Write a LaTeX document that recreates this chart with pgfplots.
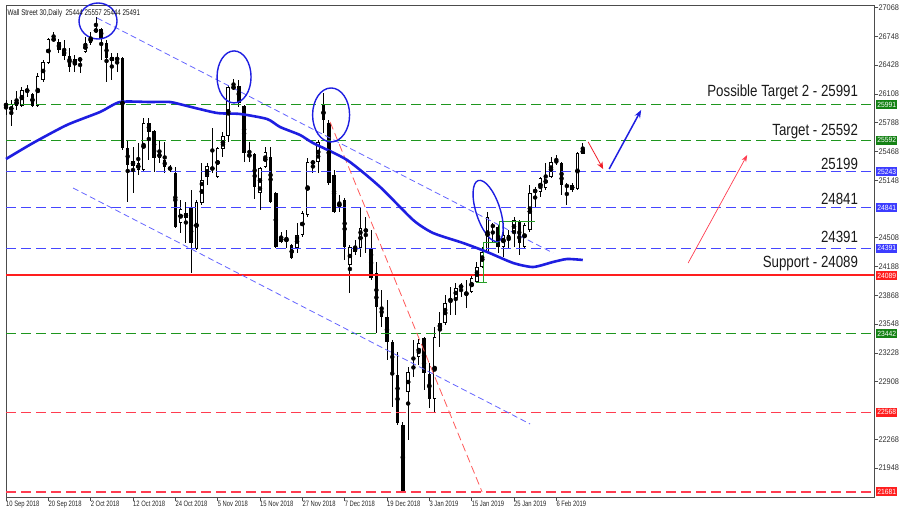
\documentclass[border=0pt]{standalone}
\usepackage{fontspec}
\setmainfont{Liberation Sans}
\usepackage{pgfplots}
\pgfplotsset{compat=1.18}
\usepackage{pgfplotstable}
\usetikzlibrary{arrows.meta}
\newfontfamily\narrowA[FakeStretch=0.75]{Liberation Sans}
\newfontfamily\narrowB[FakeStretch=0.9]{Liberation Sans}
\newfontfamily\annot[FakeStretch=0.82]{Liberation Sans}

\definecolor{lgreen}{RGB}{30,150,30}
\definecolor{lblue}{RGB}{70,70,255}
\definecolor{lred}{RGB}{255,30,30}
\definecolor{ldred}{RGB}{255,60,80}
\definecolor{bgreen}{RGB}{20,130,20}
\definecolor{bblue}{RGB}{60,60,255}
\definecolor{bred}{RGB}{255,30,30}
\definecolor{maBlue}{RGB}{30,30,225}
\definecolor{chBlue}{RGB}{100,100,255}
\definecolor{trRed}{RGB}{255,90,90}
\definecolor{arRed}{RGB}{240,30,40}
\definecolor{stGreen}{RGB}{40,160,40}

\pgfplotstableread{
i o h l c
0 25974 26041 25874 25996
1 25896 26041 25752 25996
2 25974 26141 25930 26041
3 25974 26185 25963 26152
4 26130 26208 26074 26163
6 25974 26341 25963 26308
7 26263 26486 26241 26463
8 26452 26730 26441 26719
9 26708 26797 26697 26719
13 26430 26541 26352 26497
14 26486 26519 26341 26497
15 26575 26741 26563 26675
16 26675 26797 26652 26741
17 26808 26964 26786 26819
20 26474 26563 26263 26519
21 26486 26563 26352 26508
24 25307 25518 25006 25362
25 25262 25562 25206 25340
26 25262 25841 25240 25785
29 25396 25596 25340 25451
33 24673 24928 24561 24828
36 24383 24928 24372 24906
37 24895 25340 24873 25151
38 25184 25340 25095 25307
39 25262 25729 25229 25295
40 25184 25518 25173 25507
41 25496 25685 25407 25640
42 25640 26208 25574 26185
43 26174 26274 26152 26185
46 25407 25574 25351 25440
48 25006 25295 24817 25284
49 25295 25518 25284 25462
52 24461 24572 24450 24517
53 24461 24595 24395 24506
55 24395 24673 24339 24539
56 24539 24806 24517 24784
57 24762 25396 24739 25351
58 25340 25373 25229 25351
59 25351 25596 25229 25574
63 24839 24984 24795 24906
65 24205 24428 23894 24406
67 24395 24839 24294 24617
68 24584 24739 24339 24595
76 22793 23071 22259 23015
78 23182 23382 23093 23338
81 22715 23516 22570 23404
82 23494 23683 23293 23560
83 23560 23872 23538 23783
84 23794 23961 23649 23838
85 23838 24005 23649 23950
86 23961 24005 23849 23972
87 23872 24039 23727 23905
88 23905 24094 23894 24061
89 24016 24239 24005 24183
90 24183 24406 24172 24350
91 24350 24795 24339 24739
94 24406 24673 24294 24539
96 24561 24739 24406 24706
98 24406 24673 24395 24650
99 24595 25095 24572 25006
100 25017 25073 24839 25040
101 25017 25184 24962 25173
102 25062 25340 25040 25206
103 25184 25407 25173 25351
108 25051 25462 25040 25451
109 25444 25557 25444 25491
}\bull

\pgfplotstableread{
i o h l c
5 26107 26119 25963 25974
10 26686 26719 26563 26597
11 26597 26708 26486 26530
12 26530 26619 26352 26408
18 26830 26842 26486 26730
19 26675 26708 26241 26508
22 26508 26519 25485 25507
23 25507 25596 24906 25318
27 25785 25841 25373 25685
28 25696 25707 25240 25396
30 25373 25574 25229 25295
31 25295 25318 25240 25262
32 25229 25295 24617 24628
34 24784 24906 24450 24728
35 24839 25040 24116 24450
44 26196 26263 25963 26007
45 25974 25985 25351 25451
47 25440 25451 24940 25073
50 25407 25518 24895 24906
51 25006 25017 24395 24406
54 24428 24439 24272 24283
60 25985 26119 25674 25818
61 25785 25818 25095 25117
62 25206 25262 24784 24795
64 24928 24951 24261 24406
66 24406 24483 24317 24350
69 24395 24595 24039 24061
70 24116 24239 23449 23738
71 23738 23927 23516 23627
72 23627 23816 23149 23349
73 23349 23371 22626 23015
74 22982 23238 22426 22448
75 22426 22459 21681 21695
77 23082 23371 22960 23049
79 23393 23404 22815 23004
80 22993 23115 22615 22715
92 24650 24673 24461 24628
93 24628 24650 24339 24406
95 24539 24595 24395 24483
97 24684 24706 24317 24450
104 25373 25429 25318 25340
105 25340 25351 24984 25095
106 25095 25117 24873 25073
107 25095 25117 25017 25040
}\bear

\pgfplotstableread{
i ma
0 25384
5.10 25562
11.53 25763
17.77 25907
21.55 26018
27.22 26018
31.00 26018
34.22 25974
39.89 25896
44.23 25885
49.34 25829
51.80 25740
55.58 25651
58.03 25562
64.46 25373
70.70 25073
76.94 24706
80.72 24561
86.39 24450
90.93 24350
95.84 24228
99.62 24183
103.40 24239
106.05 24272
109 24261
}\ma

\tikzset{
  lvlbox/.style={anchor=west, text=white, font=\narrowB\fontsize{7.5}{7.5}\selectfont,
    inner xsep=1.2pt, inner ysep=0pt, minimum height=9pt, xshift=1.7pt},
  ann/.style={anchor=base east, inner sep=0pt, text=black!90,
    font=\annot\fontsize{16.2}{16.2}\selectfont}
}
\pgfplotsset{
  hl/.style={mark=none, line width=1.2pt, dash pattern=on 10pt off 5pt},
  wick/.style={only marks, mark=none, error bars/.cd, y dir=both, y explicit, error mark=none,
    error bar style={draw=black, line width=0.9pt}},
  body/.style={only marks, mark=none, error bars/.cd, y dir=both, y explicit, error mark=none,
    error bar style={draw=black, line width=3.5pt}},
  inner/.style={only marks, mark=none, error bars/.cd, y dir=both, y explicit, error mark=none,
    error bar style={draw=white, line width=1.9pt}},
}

\begin{document}
\begin{tikzpicture}
\useasboundingbox (0,0) rectangle (904pt,520pt);
\begin{axis}[
  at={(6pt,23pt)}, anchor=south west,
  scale only axis, width=868.3pt, height=492pt,
  xmin=0, xmax=164.1, ymin=21625, ymax=27097,
  clip=false,
  axis line style={draw=black!70, line width=0.7pt},
  tick align=outside,
  major tick length=4pt,
  tick style={draw=black!70, line width=0.6pt},
  xtick pos=left, ytick pos=right,
  yticklabel pos=right,
  xtick={0,8,...,104},
  xticklabels={10 Sep 2018,20 Sep 2018,2 Oct 2018,12 Oct 2018,24 Oct 2018,5 Nov 2018,15 Nov 2018,27 Nov 2018,7 Dec 2018,19 Dec 2018,3 Jan 2019,15 Jan 2019,25 Jan 2019,6 Feb 2019},
  xticklabel style={font=\narrowA\fontsize{7.8}{8}\selectfont, anchor=north west, inner sep=0pt, text=black!85},
  ytick={27068,26748,26428,26108,25788,25468,25148,24508,24188,23868,23548,23228,22908,22268,21948},
  yticklabels={27068,26748,26428,26108,25788,25468,25148,24508,24188,23868,23548,23228,22908,22268,21948},
  yticklabel style={font=\narrowB\fontsize{8.2}{8}\selectfont, anchor=west, inner sep=0pt, text=black!80},
]
% candles
\addplot[wick] table[x=i, y expr={(\thisrow{h}+\thisrow{l})/2}, y error expr={(\thisrow{h}-\thisrow{l})/2}] {\bull};
\addplot[wick] table[x=i, y expr={(\thisrow{h}+\thisrow{l})/2}, y error expr={(\thisrow{h}-\thisrow{l})/2}] {\bear};
\addplot[body] table[x=i, y expr={(\thisrow{o}+\thisrow{c})/2}, y error expr={max(abs(\thisrow{c}-\thisrow{o})/2,6)}] {\bull};
\addplot[body] table[x=i, y expr={(\thisrow{o}+\thisrow{c})/2}, y error expr={max(abs(\thisrow{c}-\thisrow{o})/2,6)}] {\bear};
\addplot[inner] table[x=i, y expr={(\thisrow{o}+\thisrow{c})/2}, y error expr={max(abs(\thisrow{c}-\thisrow{o})/2-8,0.5)}] {\bull};

% level lines
\addplot[lgreen, hl] coordinates {(0,25991) (164.1,25991)};
\addplot[lgreen, hl] coordinates {(0,25592) (164.1,25592)};
\addplot[lblue, hl] coordinates {(0,25243) (164.1,25243)};
\addplot[lblue, hl] coordinates {(0,24841) (164.1,24841)};
\addplot[lblue, hl] coordinates {(0,24391) (164.1,24391)};
\addplot[lred, mark=none, line width=2pt] coordinates {(0,24089) (164.1,24089)};
\addplot[lgreen, hl] coordinates {(0,23442) (164.1,23442)};
\addplot[ldred, hl] coordinates {(0,22568) (164.1,22568)};
\addplot[ldred, hl] coordinates {(0,21681) (164.1,21681)};

% channel and trend lines
\addplot[chBlue, mark=none, line width=0.8pt, dash pattern=on 6pt off 3.5pt] coordinates {(17.20,26953) (103.40,24339)};
\addplot[chBlue, mark=none, line width=0.8pt, dash pattern=on 6pt off 3.5pt] coordinates {(12.67,25062) (99.05,22437)};
\addplot[trRed, mark=none, line width=0.8pt, dash pattern=on 8pt off 4pt] coordinates {(61.25,25796) (89.98,21681)};

% green step marks
\addplot[stGreen, mark=none, line width=0.8pt] coordinates {(88.85,24016) (90.93,24016)};
\addplot[stGreen, mark=none, line width=0.8pt] coordinates {(90.17,24016) (90.17,24461) (93.01,24461)};
\addplot[stGreen, mark=none, line width=0.8pt] coordinates {(93.19,24461) (93.19,24695) (100.0,24695)};

% moving average
\addplot[maBlue, mark=none, line width=2.6pt, smooth, tension=0.4] table[x=i, y=ma] {\ma};

% ellipses
\draw[maBlue, line width=1.4pt] (axis cs:17.39,26919) ellipse [x radius=19pt, y radius=18pt];
\draw[maBlue, line width=1.4pt] (axis cs:43.10,26297) ellipse [x radius=17pt, y radius=26pt];
\draw[maBlue, line width=1.4pt] (axis cs:61.44,25874) ellipse [x radius=18.5pt, y radius=27pt];
\draw[maBlue, line width=1.4pt] (axis cs:91.12,24806) ellipse [x radius=12pt, y radius=32pt, rotate=18];

% arrows
\draw[arRed, line width=0.8pt, -{Stealth[length=7pt,width=6pt]}] (axis cs:110.02,25574) -- (axis cs:112.85,25273);
\draw[maBlue, line width=1.5pt, -{Stealth[length=8pt,width=6pt]}] (axis cs:113.99,25273) -- (axis cs:120.04,25930);
\draw[ldred, line width=0.7pt, -{Stealth[length=7pt,width=5pt]}] (axis cs:128.92,24228) -- (axis cs:140.08,25429);

% annotations
\node[ann] at (axis cs:161.06,26074) {Possible Target 2 - 25991};
\node[ann] at (axis cs:161.06,25651) {Target - 25592};
\node[ann] at (axis cs:161.06,25262) {25199};
\node[ann] at (axis cs:161.06,24873) {24841};
\node[ann] at (axis cs:161.06,24450) {24391};
\node[ann] at (axis cs:161.06,24183) {Support - 24089};

% header
\node[anchor=west, inner sep=0pt, font=\narrowA\fontsize{8.3}{8.3}\selectfont, text=black!90]
  at ([xshift=1.5pt, yshift=-8pt]rel axis cs:0,1) {Wall Street 30,Daily\ \ 25444 25557 25444 25491};

% price boxes
\node[lvlbox, fill=bgreen] at (axis cs:164.1,25991) {25991};
\node[lvlbox, fill=bgreen] at (axis cs:164.1,25592) {25592};
\node[lvlbox, fill=bblue] at (axis cs:164.1,25243) {25243};
\node[lvlbox, fill=bblue] at (axis cs:164.1,24841) {24841};
\node[lvlbox, fill=bblue] at (axis cs:164.1,24391) {24391};
\node[lvlbox, fill=bred] at (axis cs:164.1,24089) {24089};
\node[lvlbox, fill=bgreen] at (axis cs:164.1,23442) {23442};
\node[lvlbox, fill=bred] at (axis cs:164.1,22568) {22568};
\node[lvlbox, fill=bred] at (axis cs:164.1,21681) {21681};
\end{axis}
\end{tikzpicture}
\end{document}
